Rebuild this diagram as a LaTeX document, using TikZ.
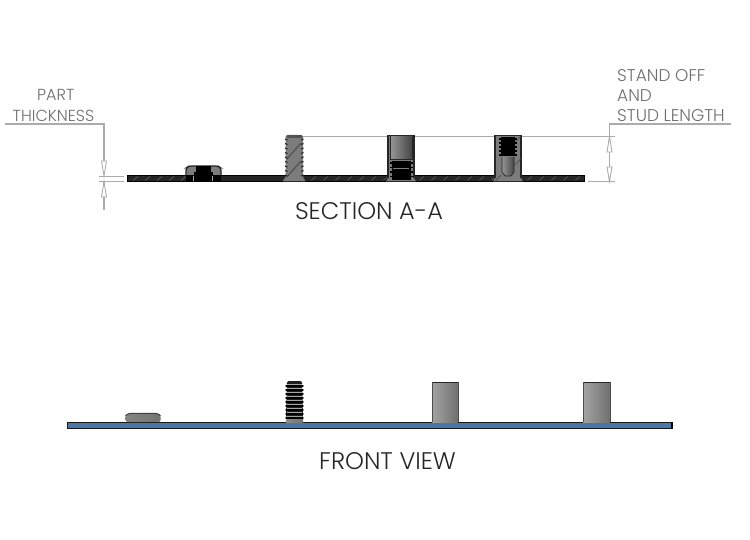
\documentclass[tikz,border=0pt]{standalone}
\usepackage{fontspec}
\setmainfont[UprightFont=* Light]{Poppins}
\usetikzlibrary{arrows.meta}
\definecolor{dimgray}{HTML}{ABABAB}
\definecolor{labelgray}{HTML}{6E6E6E}
\definecolor{platedark}{HTML}{262626}
\definecolor{hatchgray}{HTML}{6A6A6A}
\definecolor{bodygray}{HTML}{7C7C7C}
\definecolor{plateblue}{HTML}{4A78A6}
\tikzset{
  x=1pt,y=-1pt,
  dimline/.style={draw=dimgray,line width=1.1pt},
  dimarrow/.style={draw=dimgray,fill=white,line width=.9pt,line join=miter},
  label/.style={inner sep=0pt,anchor=base west,text=labelgray,font=\fontsize{16}{16}\selectfont},
  labelwide/.style={label,font=\fontsize{17}{17}\selectfont},
  title/.style={inner sep=0pt,anchor=base,text=black!85,font=\fontsize{24}{24}\selectfont},
  plate/.style={fill=platedark,draw=black,line width=.5pt},
  frontplate/.style={fill=plateblue,draw=black!90,line width=.9pt},
  frontbody/.style={left color=black!36,middle color=black!50,right color=black!56,draw=none},
  borefill/.style={left color=black!42,middle color=black!52,right color=black!72},
  topedge/.style={draw=black!85,line width=1pt},
  thread/.style={draw=black,line width=1.3pt},
  hatch/.style={draw=hatchgray,line width=.5pt},
}
\begin{document}
\begin{tikzpicture}
\useasboundingbox (0,0) rectangle (750,540);
% ---- section plate
\draw[plate] (127.5,175.5) rectangle (584,181.5);
\foreach \h in {133,145,...,181,311,323,...,383,419,431,...,491,527,539,...,575}
  \draw[hatch] (\h,180.5) -- (\h+5,176.5);
% ---- dimension lines, part thickness
\coordinate (ptL) at (5,124);
\coordinate (ptC) at (104,124);
\coordinate (ptU) at (104,172);
\coordinate (ptT) at (104,176);
\coordinate (ptB) at (104,181.5);
\coordinate (ptE) at (104,210);
\draw[dimline] (ptL) -- (ptC) -- (ptU);
\draw[dimline] (99,176.5) -- (124,176.5);
\draw[dimline] (99,181.5) -- (124,181.5);
\draw[dimline] (ptB) -- (ptE);
\draw[dimarrow] (ptT) -- (101.5,161) -- (106.5,161) -- cycle;
\draw[dimarrow] (ptB) -- (101.5,197) -- (106.5,197) -- cycle;
% ---- dimension lines, stand off
\coordinate (soR) at (731,124);
\coordinate (soC) at (609.5,124);
\coordinate (soT) at (609.5,136.5);
\coordinate (soB) at (609.5,181.5);
\draw[dimline] (soR) -- (soC) -- (soB);
\draw[dimline] (302,136.5) -- (388,136.5);
\draw[dimline] (414,136.5) -- (495,136.5);
\draw[dimline] (520,136.5) -- (615,136.5);
\draw[dimline] (588,181.5) -- (615,181.5);
\draw[dimarrow] (soT) -- (607,152) -- (612,152) -- cycle;
\draw[dimarrow] (soB) -- (607,167) -- (612,167) -- cycle;
% ---- section, nut
\fill[bodygray,rounded corners=2pt] (186,176) -- (186,168) -- (189,166) -- (218,166) -- (221,168) -- (221,176) -- cycle;
\draw[platedark,line width=1.2pt,rounded corners=2pt] (186,176) -- (186,168) -- (189,166) -- (218,166) -- (221,168) -- (221,176);
\fill[black] (196,166.5) rectangle (211,179);
\fill[black] (186,175) rectangle (221,181.5);
\fill[black] (194,172) rectangle (213,177);
\foreach \h in {193.5,212} \draw[black!35,line width=.8pt] (\h,176) -- (\h,181);
% ---- section, stud
\fill[bodygray] (282.5,181.5) -- (285.5,177) -- (285.5,136) -- (288,134.8) -- (300.5,134.8) -- (303,136) -- (303,177) -- (305.5,181.5) -- cycle;
\fill[black!68] (287,135) rectangle (301.5,138.5);
\foreach \t in {139,143.5,...,175} {
  \draw[black!85,line width=1.1pt] (285,\t) -- (287.5,\t+1);
  \draw[black!85,line width=1.1pt] (303.5,\t) -- (301,\t+1);
}
\draw[black!75,line width=.8pt] (287,159) -- (301,143);
\draw[black!75,line width=.8pt] (287,177) -- (301,161);
% ---- section, open stand-off
\fill[bodygray] (386,181.5) -- (388,178) -- (388,136) -- (414,136) -- (414,178) -- (416,181.5) -- cycle;
\draw[platedark,line width=1.2pt] (388,178) -- (388,135.5) -- (414,135.5) -- (414,178);
\shade[borefill] (391,137) rectangle (411.5,159);
\draw[platedark,line width=1pt] (390.5,136.5) -- (390.5,160) -- (412,160) -- (412,136.5);
\fill[black] (392,161) rectangle (410.5,180);
\foreach \t in {163,167.5,...,179} \draw[thread] (390,\t) -- (412.5,\t);
\fill[black!50] (393,168) rectangle (409,169.5);
% ---- section, blind stand-off
\fill[bodygray] (493,181.5) -- (495,178) -- (495,136) -- (521,136) -- (521,178) -- (523,181.5) -- cycle;
\draw[platedark,line width=1.2pt] (495,178) -- (495,135.5) -- (521,135.5) -- (521,178);
\fill[black] (501,137) rectangle (515,155);
\foreach \t in {139,143,...,155} \draw[thread] (499,\t) -- (517,\t);
\shade[borefill] (502,157) -- (514,157) -- (514,172) -- (511,176) -- (505,176) -- (502,172) -- cycle;
\draw[platedark,line width=.7pt] (502,157) -- (502,172) -- (505,176) -- (511,176) -- (514,172) -- (514,157);
\draw[black!70,line width=.7pt] (495.5,181) -- (501,175);
\draw[black!70,line width=.7pt] (515,142) -- (520.5,136.5);
\draw[black!70,line width=.7pt] (515,165) -- (520.5,159);
% ---- front plate
\draw[frontplate] (67.5,422.3) rectangle (672.5,428);
\fill[black] (670.5,422) rectangle (673,428.5);
% ---- front, nut
\shade[left color=black!48,middle color=black!35,right color=black!55,rounded corners=2pt] (125.5,422) -- (125.5,415) -- (128,413) -- (158,413) -- (160.5,415) -- (160.5,422) -- cycle;
\draw[black!75,line width=.9pt,rounded corners=2pt] (125.5,416) -- (128,413.3) -- (158,413.3) -- (160.5,416);
% ---- front, stud
\shade[left color=black!45,right color=black!55] (286,422) -- (286,417) -- (303,417) -- (303,422) -- cycle;
\fill[black!88,rounded corners=2pt] (287,381) -- (302,381) -- (303,417.5) -- (286,417.5) -- cycle;
\foreach \t in {384,388,...,416} {
  \draw[black!35,line width=.8pt] (287,\t) -- (302,\t);
  \draw[black,line width=1.4pt,line cap=round] (286,\t+2) -- (303,\t+2);
}
% ---- front, stand-offs
\shade[frontbody] (432,382) rectangle (458,422);
\draw[topedge] (432,382) -- (458,382);
\shade[frontbody] (583,382) rectangle (610,422);
\draw[topedge] (583,382) -- (610,382);
\draw[black!70,line width=.5pt] (432,382) -- (432,422) (458,382) -- (458,422) (583,382) -- (583,422) (610,382) -- (610,422);
% ---- labels
\node[label] (part) at (37,101) {PART};
\node[label] (thick) at (12.5,122) {THICKNESS};
\node[labelwide] (stand) at (617,81.5) {STAND OFF};
\node[labelwide] (and) at (617,101.5) {AND};
\node[labelwide] (stud) at (617,122) {STUD LENGTH};
\node[title] (sec) at (369,219.5) {SECTION A-A};
\node[title] (front) at (387.5,469) {FRONT VIEW};
\end{tikzpicture}
\end{document}
